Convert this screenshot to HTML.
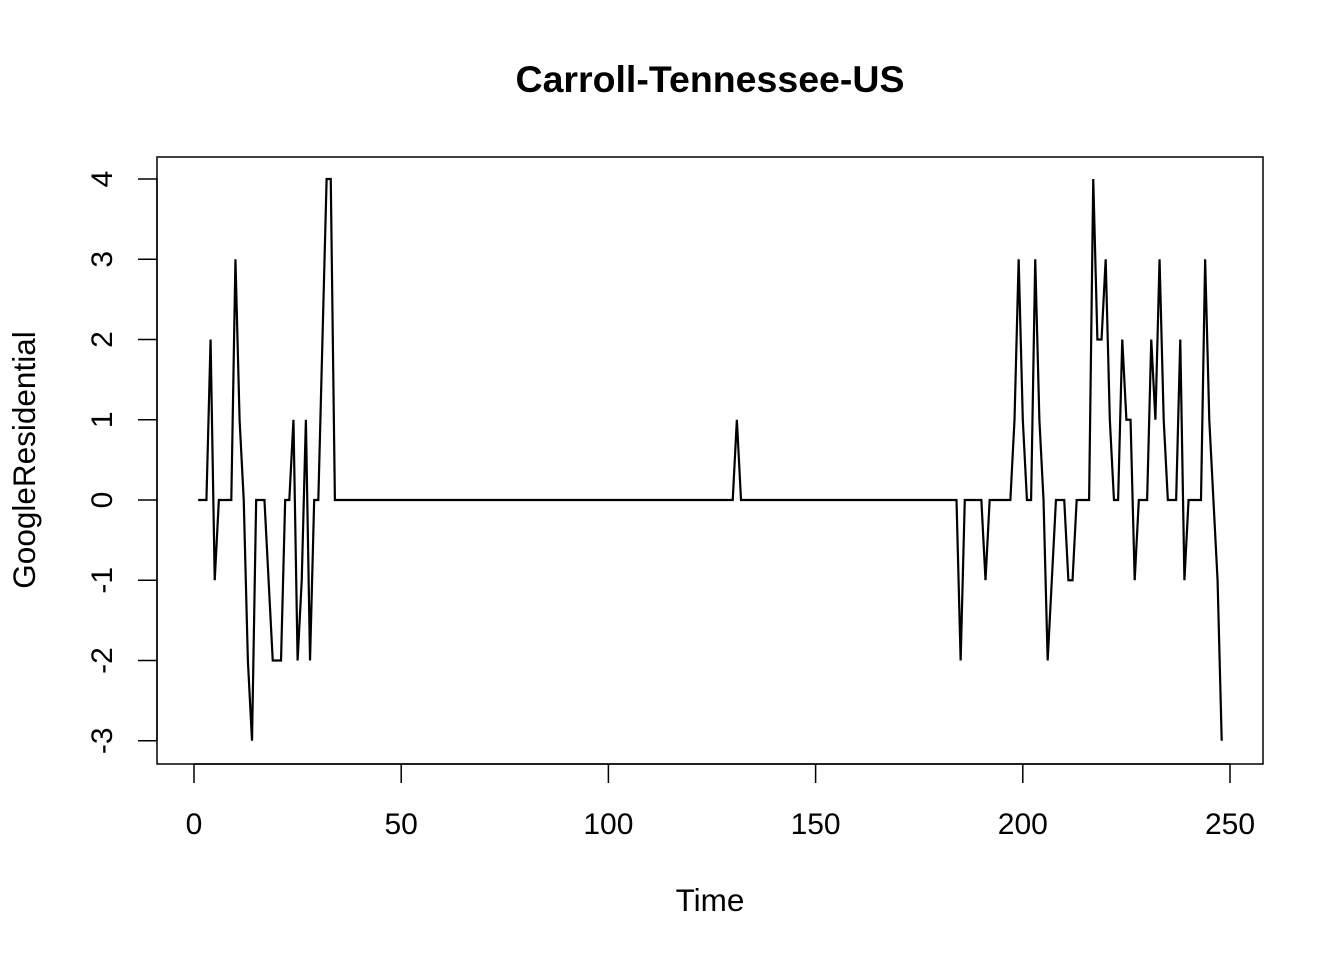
<!DOCTYPE html>
<html><head><meta charset="utf-8"><style>
html,body{margin:0;padding:0;background:#fff;}
svg{display:block;font-family:"Liberation Sans",Arial,sans-serif;}
</style></head><body>
<svg id="chart" width="1344" height="960">
<text x="710" y="92" text-anchor="middle" font-size="37.5" font-weight="bold">Carroll-Tennessee-US</text>
<rect x="157" y="157" width="1106" height="607" fill="none" stroke="#000" stroke-width="1.5"/>
<g id="xaxis"></g>
<g id="yaxis"></g>
<text x="710" y="911" text-anchor="middle" font-size="31.5">Time</text>
<text transform="translate(35,460) rotate(-90)" text-anchor="middle" font-size="31.5">GoogleResidential</text>
<path id="series" fill="none" stroke="#000" stroke-width="2.2" stroke-linejoin="miter"/>
</svg>
<script>
const xTicks = [0, 50, 100, 150, 200, 250];
const yTicks = [-3, -2, -1, 0, 1, 2, 3, 4];
const leftValues = [0,0,0,2,-1,0,0,0,0,3,1,0,-2,-3,0,0,0,-1,-2,-2,-2,0,0,1,-2,-1,1,-2,0,0,2,4,4,0];
const midSpike = {time:131, value:1};
const rightStart = 184;
const rightValues = [0,-2,0,0,0,0,0,-1,0,0,0,0,0,0,1,3,1,0,0,3,1,0,-2,-1,0,0,0,-1,-1,0,0,0,0,4,2,2,3,1,0,0,2,1,1,-1,0,0,0,2,1,3,1,0,0,0,2,-1,0,0,0,0,3,1,0,-1,-3];
const nTotal = 248;

const sx = t => 194 + (t) * (1230 - 194) / 250;
const sy = v => 500 - v * 80.25;
const ns = 'http://www.w3.org/2000/svg';

const series = [];
for (let t = 1; t <= nTotal; t++) {
  let v = 0;
  if (t <= leftValues.length) v = leftValues[t - 1];
  else if (t >= rightStart && t - rightStart < rightValues.length) v = rightValues[t - rightStart];
  else if (t === midSpike.time) v = midSpike.value;
  series.push([t, v]);
}
document.getElementById('series').setAttribute('d', series.map((p, i) => (i ? 'L' : 'M') + sx(p[0]).toFixed(2) + ',' + sy(p[1]).toFixed(2)).join(''));

const xa = document.getElementById('xaxis');
const xl = document.createElementNS(ns, 'line');
xl.setAttribute('x1', sx(xTicks[0])); xl.setAttribute('x2', sx(xTicks[xTicks.length - 1]));
xl.setAttribute('y1', 764); xl.setAttribute('y2', 764); xl.setAttribute('stroke', '#000'); xl.setAttribute('stroke-width', '1.5');
xa.appendChild(xl);
xTicks.forEach(t => {
  const l = document.createElementNS(ns, 'line');
  
  
  l.setAttribute('x1', sx(t)); l.setAttribute('x2', sx(t)); l.setAttribute('y1', 764); l.setAttribute('y2', 783);
  l.setAttribute('stroke', '#000'); l.setAttribute('stroke-width', '1.5');
  xa.appendChild(l);
  const tx = document.createElementNS(ns, 'text');
  
  
  tx.setAttribute('x', sx(t)); tx.setAttribute('y', 834); tx.setAttribute('text-anchor', 'middle'); tx.setAttribute('font-size', '30');
  tx.textContent = t;
  xa.appendChild(tx);
});

const ya = document.getElementById('yaxis');
const yl = document.createElementNS(ns, 'line');
yl.setAttribute('x1', 157); yl.setAttribute('x2', 157);
yl.setAttribute('y1', sy(yTicks[0])); yl.setAttribute('y2', sy(yTicks[yTicks.length - 1])); yl.setAttribute('stroke', '#000'); yl.setAttribute('stroke-width', '1.5');
ya.appendChild(yl);
yTicks.forEach(v => {
  const l = document.createElementNS(ns, 'line');
  
  
  l.setAttribute('x1', 138); l.setAttribute('x2', 157); l.setAttribute('y1', sy(v)); l.setAttribute('y2', sy(v));
  l.setAttribute('stroke', '#000'); l.setAttribute('stroke-width', '1.5');
  ya.appendChild(l);
  const tx = document.createElementNS(ns, 'text');
  
  
  tx.setAttribute('transform', 'translate(112,' + sy(v) + ') rotate(-90)');
  tx.setAttribute('text-anchor', 'middle'); tx.setAttribute('font-size', '30');
  tx.textContent = v;
  ya.appendChild(tx);
});
</script>
</body></html>
